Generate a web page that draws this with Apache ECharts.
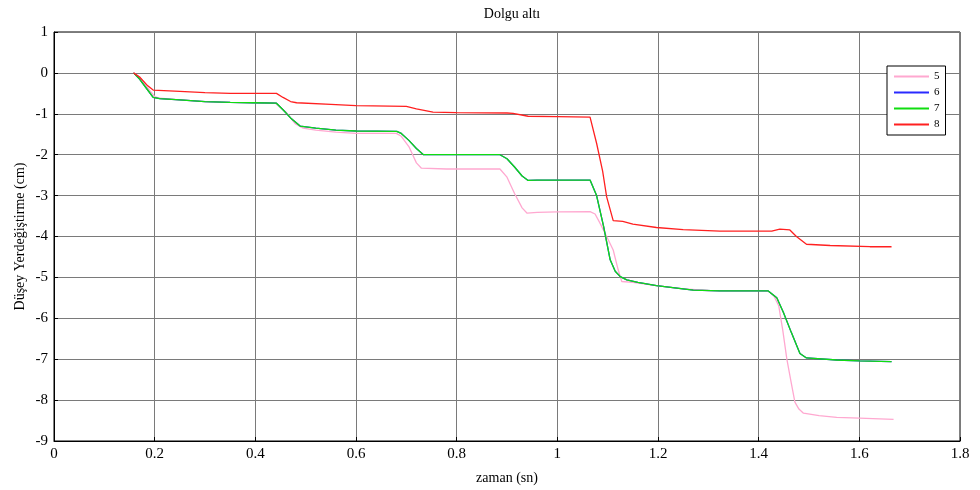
<!DOCTYPE html>
<html>
<head>
<meta charset="utf-8">
<script src="https://cdn.jsdelivr.net/npm/echarts@6/dist/echarts.min.js"></script>
<style>html,body{margin:0;padding:0;background:#fff}#c{width:980px;height:490px}</style>
</head>
<body>
<div id="c"></div>
<script>
const seriesNames = ['5', '6', '7', '8'];
const xTicks = [0, 0.2, 0.4, 0.6, 0.8, 1, 1.2, 1.4, 1.6, 1.8];
const yTicks = [1, 0, -1, -2, -3, -4, -5, -6, -7, -8, -9];

const t5 = [0.158,0.17,0.185,0.2,0.21,0.25,0.3,0.35,0.4,0.44,0.46,0.48,0.495,0.52,0.56,0.6,0.65,0.68,0.69,0.705,0.72,0.73,0.78,0.83,0.886,0.9,0.915,0.93,0.94,0.96,1.0,1.065,1.075,1.085,1.098,1.111,1.121,1.128,1.15,1.197,1.25,1.3,1.35,1.419,1.43,1.44,1.448,1.456,1.465,1.472,1.48,1.489,1.52,1.555,1.6,1.668];
const d5 = [0,-0.1,-0.35,-0.58,-0.62,-0.66,-0.7,-0.72,-0.73,-0.74,-0.95,-1.25,-1.35,-1.4,-1.45,-1.48,-1.48,-1.48,-1.55,-1.8,-2.2,-2.33,-2.35,-2.35,-2.35,-2.55,-2.95,-3.3,-3.43,-3.41,-3.4,-3.39,-3.45,-3.68,-4.0,-4.33,-4.82,-5.1,-5.12,-5.2,-5.28,-5.32,-5.33,-5.33,-5.45,-5.7,-6.3,-7.0,-7.6,-8.05,-8.22,-8.32,-8.38,-8.42,-8.44,-8.47];

const t6 = [0.158,0.17,0.185,0.197,0.21,0.25,0.3,0.35,0.396,0.442,0.455,0.47,0.489,0.52,0.56,0.6,0.681,0.69,0.705,0.72,0.734,0.8,0.886,0.9,0.915,0.93,0.942,0.96,1.0,1.065,1.078,1.092,1.105,1.115,1.125,1.138,1.16,1.197,1.27,1.323,1.419,1.436,1.449,1.465,1.482,1.495,1.555,1.6,1.664];
const d6 = [0,-0.15,-0.4,-0.6,-0.63,-0.66,-0.7,-0.72,-0.73,-0.74,-0.9,-1.1,-1.3,-1.35,-1.4,-1.42,-1.43,-1.48,-1.65,-1.85,-2.0,-2.0,-2.0,-2.1,-2.3,-2.52,-2.63,-2.62,-2.62,-2.62,-3.0,-3.76,-4.57,-4.85,-4.98,-5.06,-5.12,-5.2,-5.31,-5.33,-5.33,-5.5,-5.85,-6.35,-6.86,-6.97,-7.02,-7.04,-7.06];

const t7 = [0.158,0.17,0.185,0.197,0.21,0.25,0.3,0.35,0.396,0.442,0.455,0.47,0.489,0.52,0.56,0.6,0.681,0.69,0.705,0.72,0.734,0.8,0.886,0.9,0.915,0.93,0.942,0.96,1.0,1.065,1.078,1.092,1.105,1.115,1.125,1.138,1.16,1.197,1.27,1.323,1.419,1.436,1.449,1.465,1.482,1.495,1.555,1.6,1.664];
const d7 = [0,-0.15,-0.4,-0.6,-0.63,-0.66,-0.7,-0.72,-0.73,-0.74,-0.9,-1.1,-1.3,-1.35,-1.4,-1.42,-1.43,-1.48,-1.65,-1.85,-2.0,-2.0,-2.0,-2.1,-2.3,-2.52,-2.63,-2.62,-2.62,-2.62,-3.0,-3.76,-4.57,-4.85,-4.98,-5.06,-5.12,-5.2,-5.31,-5.33,-5.33,-5.5,-5.85,-6.35,-6.86,-6.97,-7.02,-7.04,-7.06];

const t8 = [0.158,0.17,0.185,0.197,0.25,0.3,0.35,0.442,0.455,0.47,0.482,0.55,0.6,0.7,0.72,0.753,0.8,0.9,0.912,0.942,1.0,1.065,1.078,1.09,1.098,1.111,1.13,1.15,1.197,1.25,1.323,1.426,1.442,1.462,1.475,1.495,1.542,1.621,1.664];
const d8 = [0,-0.1,-0.3,-0.42,-0.45,-0.48,-0.5,-0.5,-0.6,-0.7,-0.73,-0.77,-0.8,-0.82,-0.88,-0.96,-0.97,-0.98,-0.99,-1.06,-1.07,-1.08,-1.72,-2.4,-3.03,-3.61,-3.63,-3.7,-3.78,-3.83,-3.87,-3.87,-3.82,-3.84,-4.0,-4.19,-4.22,-4.25,-4.25];

const colors = ['#ffa8d0', '#2a2aff', '#10dd10', '#ff2020'];
const zip = (a, b) => a.map((v, i) => [v, b[i]]);
const allData = [zip(t5, d5), zip(t6, d6), zip(t7, d7), zip(t8, d8)];

const font = 'Liberation Serif, Times New Roman, serif';
const chart = echarts.init(document.getElementById('c'));
chart.setOption({
  animation: false,
  backgroundColor: '#fff',
  color: colors,
  title: {
    text: 'Dolgu altı', left: 507, top: 2, textAlign: 'center',
    textStyle: { fontFamily: font, fontSize: 14, fontWeight: 'normal', color: '#000' }
  },
  legend: {
    orient: 'vertical', left: 887, top: 66,
    data: seriesNames,
    icon: 'rect',
    itemWidth: 35, itemHeight: 2, itemGap: 3,
    padding: [4, 6, 4, 7],
    backgroundColor: '#fff', borderColor: '#000', borderWidth: 1,
    textStyle: { fontFamily: font, fontSize: 11, color: '#000', lineHeight: 13 }
  },
  grid: { left: 54, right: 20, top: 32, bottom: 49, show: true, borderColor: '#000', borderWidth: 1, backgroundColor: 'transparent' },
  xAxis: {
    type: 'value', min: 0, max: 1.8, interval: 0.2,
    name: 'zaman (sn)', nameLocation: 'middle', nameGap: 30,
    nameTextStyle: { fontFamily: font, fontSize: 14, color: '#000' },
    axisLine: { onZero: false, lineStyle: { color: '#000' } },
    axisTick: { inside: true, length: 4, lineStyle: { color: '#000' } },
    axisLabel: { fontFamily: font, fontSize: 15, color: '#000', margin: 6,
      formatter: v => { const m = xTicks.find(t => Math.abs(t - v) < 1e-9); return m === undefined ? '' : String(m); } },
    splitLine: { show: true, lineStyle: { color: '#7a7a7a', width: 1 } }
  },
  yAxis: {
    type: 'value', min: -9, max: 1, interval: 1,
    name: 'Düşey Yerdeğiştirme (cm)', nameLocation: 'middle', nameGap: 27, nameRotate: 90,
    nameMoveOverlap: false,
    nameTextStyle: { fontFamily: font, fontSize: 14, color: '#000' },
    axisLine: { show: true, onZero: false, lineStyle: { color: '#000' } },
    axisTick: { show: true, inside: true, length: 4, lineStyle: { color: '#000' } },
    axisLabel: { fontFamily: font, fontSize: 15, color: '#000', margin: 6,
      formatter: v => { const m = yTicks.find(t => Math.abs(t - v) < 1e-9); return m === undefined ? '' : String(m); } },
    splitLine: { show: true, lineStyle: { color: '#7a7a7a', width: 1 } }
  },
  series: seriesNames.map((n, i) => ({
    name: n, type: 'line', data: allData[i], symbol: 'none', smooth: false,
    lineStyle: { width: 1.3, color: colors[i] }, itemStyle: { color: colors[i] }, z: 2 + i
  }))
});
</script>
</body>
</html>
